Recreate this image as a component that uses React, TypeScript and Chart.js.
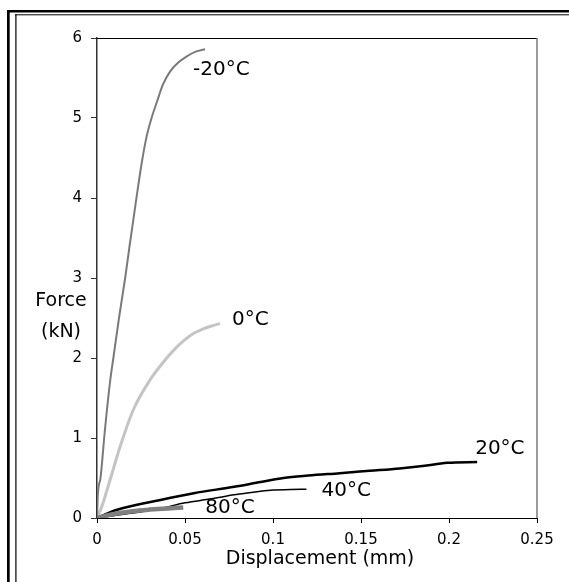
import { useEffect, useRef } from "react";
import { Chart, registerables } from "chart.js";

Chart.register(...registerables);

// ---- data (displacement in mm, force in kN) ----
const seriesNames = ["-20°C", "0°C", "20°C", "40°C", "80°C"];

const dispM20 = [0, 0.0005, 0.002, 0.0045, 0.0074, 0.0093, 0.0125, 0.016, 0.0185, 0.0206, 0.0228, 0.0255, 0.0282, 0.031, 0.034, 0.0375, 0.0415, 0.046, 0.051, 0.056, 0.0614];
const forceM20 = [0, 0.3, 0.5, 1.1, 1.7, 2.0, 2.5, 3.0, 3.4, 3.72, 4.06, 4.45, 4.77, 5.0, 5.2, 5.42, 5.58, 5.69, 5.77, 5.83, 5.86];

const disp0 = [0, 0.0027, 0.0074, 0.0131, 0.0206, 0.0301, 0.0396, 0.045, 0.05, 0.055, 0.06, 0.065, 0.0699];
const force0 = [0, 0.14, 0.475, 0.89, 1.35, 1.725, 2.0, 2.13, 2.23, 2.31, 2.36, 2.4, 2.43];

const disp20 = [0, 0.011, 0.036, 0.055, 0.078, 0.093, 0.106, 0.12, 0.138, 0.155, 0.172, 0.185, 0.199, 0.216];
const force20 = [0, 0.1, 0.225, 0.31, 0.39, 0.45, 0.5, 0.53, 0.56, 0.59, 0.62, 0.65, 0.69, 0.7];

const disp40 = [0, 0.013, 0.036, 0.05, 0.065, 0.078, 0.093, 0.1, 0.11, 0.119];
const force40 = [0, 0.04, 0.12, 0.19, 0.24, 0.29, 0.335, 0.35, 0.355, 0.36];

const disp80 = [0, 0.005, 0.012, 0.02, 0.03, 0.04, 0.049];
const force80 = [0, 0.03, 0.06, 0.085, 0.105, 0.12, 0.13];

const xTicks = [0, 0.05, 0.1, 0.15, 0.2, 0.25];
const yTicks = [0, 1, 2, 3, 4, 5, 6];
const xTitle = "Displacement (mm)";
const yTitleLines = ["Force", "(kN)"];

const FONT = "'DejaVu Sans', 'Liberation Sans', Arial, sans-serif";

const pts = (xs: number[], ys: number[]) => xs.map((x, i) => ({ x, y: ys[i] }));

export default function App() {
  const ref = useRef<HTMLCanvasElement | null>(null);

  useEffect(() => {
    if (!ref.current) return;
    const styles = [
      { color: "#7a7a7a", width: 2, off: [-12, 21] },
      { color: "#c4c4c4", width: 3, off: [12, -4] },
      { color: "#000000", width: 2.5, off: [-2, -13] },
      { color: "#000000", width: 1.5, off: [15, 2] },
      { color: "#808080", width: 4.5, off: [22, 0] },
    ];
    const raw = [
      pts(dispM20, forceM20),
      pts(disp0, force0),
      pts(disp20, force20),
      pts(disp40, force40),
      pts(disp80, force80),
    ];
    const order = [2, 3, 1, 4, 0];
    const datasets = raw.map((d, i) => ({
      label: seriesNames[i],
      data: d,
      showLine: true,
      borderColor: styles[i].color,
      backgroundColor: styles[i].color,
      borderWidth: styles[i].width,
      pointRadius: 0,
      cubicInterpolationMode: "monotone" as const,
      fill: false,
      order: order[i],
    }));

    const deco = {
      id: "deco",
      beforeDraw(chart: any) {
        const ctx = chart.ctx;
        ctx.save();
        ctx.fillStyle = "#fff";
        ctx.fillRect(0, 0, chart.width, chart.height);
        ctx.fillStyle = "#000";
        // double frame
        ctx.fillRect(7, 10, chart.width - 7, 2.5);
        ctx.fillRect(7, 10, 2.7, chart.height - 10);
        ctx.fillRect(15, 14.3, chart.width - 15, 1);
        ctx.fillRect(15.3, 14.3, 1.2, chart.height - 14);
        ctx.restore();
      },
      afterDraw(chart: any) {
        const ctx = chart.ctx;
        const a = chart.chartArea;
        ctx.save();
        // top and right box lines
        ctx.strokeStyle = "#000";
        ctx.lineWidth = 1;
        ctx.beginPath();
        ctx.moveTo(a.left, a.top + 0.5);
        ctx.lineTo(a.right, a.top + 0.5);
        ctx.stroke();
        ctx.strokeStyle = "#7a7a7a";
        ctx.lineWidth = 1.5;
        ctx.beginPath();
        ctx.moveTo(a.right, a.top);
        ctx.lineTo(a.right, a.bottom);
        ctx.stroke();
        // axis titles
        ctx.fillStyle = "#000";
        ctx.textAlign = "center";
        ctx.textBaseline = "middle";
        ctx.font = `19px ${FONT}`;
        ctx.fillText(xTitle, 320, 559);
        ctx.fillText(yTitleLines[0], 61, 301);
        ctx.fillText(yTitleLines[1], 61, 332);
        // series labels
        ctx.font = `20px ${FONT}`;
        ctx.textAlign = "left";
        const xs = chart.scales.x;
        const ys = chart.scales.y;
        raw.forEach((d, i) => {
          const last = d[d.length - 1];
          const px = xs.getPixelForValue(last.x) + styles[i].off[0];
          const py = ys.getPixelForValue(last.y) + styles[i].off[1];
          ctx.fillText(seriesNames[i], px, py);
        });
        ctx.restore();
      },
    };

    const chart = new Chart(ref.current, {
      type: "scatter",
      data: { datasets },
      options: {
        animation: false,
        responsive: false,
        maintainAspectRatio: false,
        layout: { padding: { left: 0, top: 38, right: 32, bottom: 0 } },
        plugins: { legend: { display: false }, tooltip: { enabled: false } },
        scales: {
          x: {
            type: "linear",
            min: 0,
            max: 0.25,
            afterBuildTicks: (s: any) => {
              s.ticks = xTicks.map((v) => ({ value: v }));
            },
            afterFit: (s: any) => {
              s.height = 64;
            },
            ticks: {
              color: "#000",
              font: { family: FONT, size: 15 },
              padding: 8,
              maxRotation: 0,
              autoSkip: false,
              callback: (v: any) => String(v),
            },
            grid: { drawOnChartArea: false, drawTicks: true, tickLength: 5, color: "#000" },
            border: { display: true, color: "#000", width: 1 },
          },
          y: {
            type: "linear",
            min: 0,
            max: 6,
            afterBuildTicks: (s: any) => {
              s.ticks = yTicks.map((v) => ({ value: v }));
            },
            afterFit: (s: any) => {
              s.width = 97;
            },
            ticks: {
              color: "#000",
              font: { family: FONT, size: 15 },
              padding: 9,
              autoSkip: false,
              callback: (v: any) => String(v),
            },
            grid: { drawOnChartArea: false, drawTicks: true, tickLength: 6, color: "#333" },
            border: { display: true, color: "#333", width: 1.5 },
          },
        },
      },
      plugins: [deco],
    });
    return () => chart.destroy();
  }, []);

  return (
    <div style={{ position: "absolute", left: 0, top: 0, width: 569, height: 582 }}>
      <canvas ref={ref} width={569} height={582} style={{ display: "block" }} />
    </div>
  );
}
